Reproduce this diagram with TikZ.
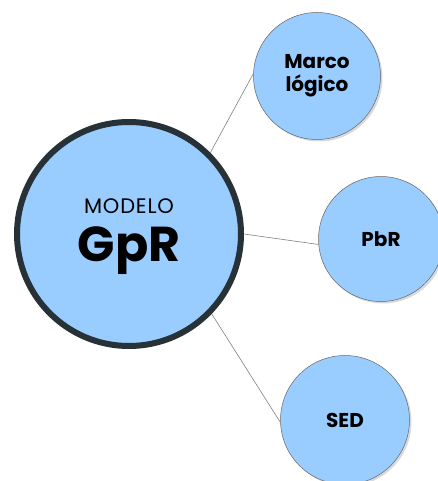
\documentclass[tikz,border=0pt]{standalone}
\usepackage{fontspec}
\setmainfont{Poppins}
\usetikzlibrary{shadows}
\definecolor{gprfill}{RGB}{153,204,255}
\definecolor{gprrim}{RGB}{38,50,56}
\tikzset{
  topic/.style={circle, draw=black!60, line width=0.5pt, fill=gprfill,
    minimum size=#1, inner sep=0pt, align=center,
    font=\bfseries\fontsize{20}{23}\selectfont,
    drop shadow={opacity=0.3, shadow xshift=2pt, shadow yshift=-2pt}},
  hub/.style={circle, draw=gprrim, line width=6pt, fill=gprfill,
    minimum size=224pt, inner sep=0pt, align=center,
    drop shadow={opacity=0.3, shadow xshift=1pt, shadow yshift=-1pt}},
  link/.style={draw=black!50, line width=0.6pt}
}
\begin{document}
\begin{tikzpicture}[x=1pt, y=-1pt]
  \useasboundingbox (0,0) rectangle (438,481);

  \node[hub] (modelo) at (129,234)
    {\raisebox{-3pt}[\height][\depth]{\addfontfeatures{LetterSpace=4}\fontsize{21}{24}\selectfont MODELO}\\[12pt]%
     \raisebox{-3pt}[\height][\depth]{\bfseries\fontsize{49}{52}\selectfont GpR}};
  \node[topic=127pt] (marco) at (317,76) {Marco\\lógico};
  \node[topic=125pt] (pbr) at (381,239) {PbR};
  \node[topic=129pt] (sed) at (345,420) {SED};

  % ramas
  \draw[link] (modelo.45) -- (marco.178);
  \draw[link] (modelo.0) -- (pbr.185);
  \draw[link] (modelo.-44) -- (sed.182);
\end{tikzpicture}
\end{document}
